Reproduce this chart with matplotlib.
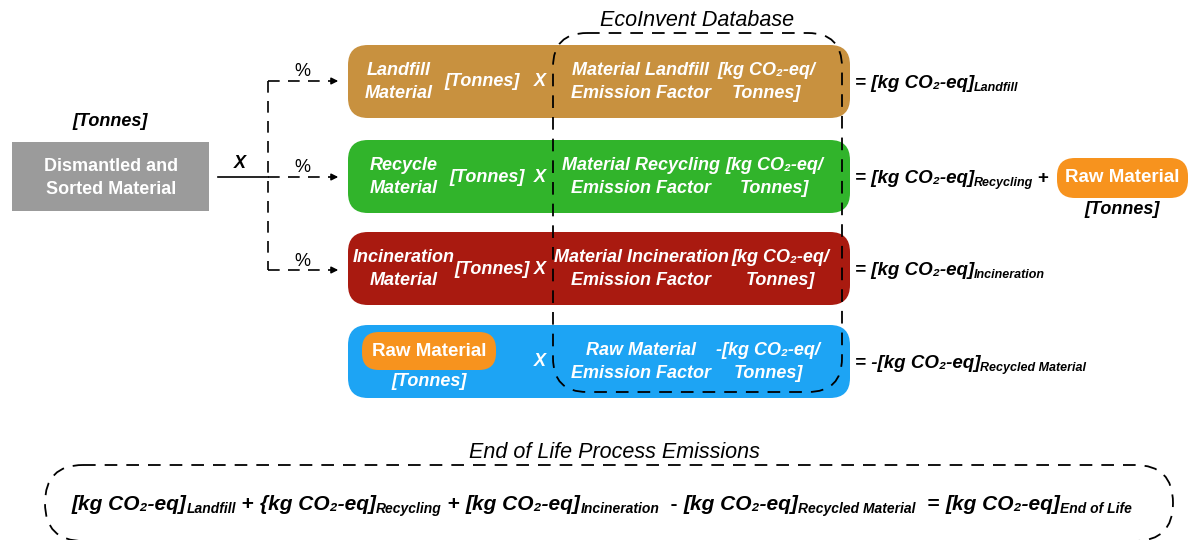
import matplotlib
matplotlib.use("Agg")
import matplotlib.pyplot as plt
from matplotlib.patches import FancyBboxPatch, Rectangle

plt.rcParams['font.family'] = ['Liberation Sans', 'DejaVu Sans']

# ---- content ----
source_label = "Dismantled and\nSorted Material"
unit_tonnes = "[Tonnes]"
split_labels = ["%", "%", "%"]
material_labels = ["Landfill\nMaterial", "Recycle\nMaterial", "Incineration\nMaterial"]
factor_labels = ["Material Landfill\nEmission Factor", "Material Recycling\nEmission Factor",
                 "Material Incineration\nEmission Factor", "Raw Material\nEmission Factor"]
factor_units = ["[kg CO₂-eq/\nTonnes]", "[kg CO₂-eq/\nTonnes]", "[kg CO₂-eq/\nTonnes]", "-[kg CO₂-eq/\nTonnes]"]
result_prefix = ["= ", "= ", "= ", "= -"]
result_subs = ["Landfill", "Recycling", "Incineration", "Recycled Material"]
box_colors = ["#C8913F", "#31B42B", "#A91A10", "#1DA4F4"]
raw_label = "Raw Material"
raw_color = "#F7931E"
db_title = "EcoInvent Database"
eol_title = "End of Life Process Emissions"
eol_terms = [("[kg CO₂-eq]", "Landfill", " + "), ("{kg CO₂-eq]", "Recycling", " + "),
             ("[kg CO₂-eq]", "Incineration", "  - "), ("[kg CO₂-eq]", "Recycled Material", "  = "),
             ("[kg CO₂-eq]", "End of Life", "")]

# ---- figure ----
fig = plt.figure(figsize=(11.88, 5.40), dpi=100)
ax = fig.add_axes([0, 0, 1, 1])
ax.set_xlim(0, 1188)
ax.set_ylim(540, 0)
ax.axis('off')
renderer = fig.canvas.get_renderer()

DASH = (0, (7, 5))
W = 'white'
FS = 13

def run(x, y, pieces, color='black'):
    """pieces: (text, size, dy, style)"""
    for txt, size, dy, style in pieces:
        t = ax.text(x, y + dy, txt, fontsize=size, fontweight='bold', fontstyle=style,
                    color=color, ha='left', va='baseline')
        bb = t.get_window_extent(renderer)
        x += bb.width
    return x

# source box
ax.add_patch(Rectangle((12, 142), 197, 69, facecolor='#9B9B9B', edgecolor='none'))
ax.text(111, 178, source_label, ha='center', va='center', color=W, fontsize=FS,
        fontweight='bold', linespacing=1.5)
ax.text(110, 122, unit_tonnes, ha='center', va='center', fontsize=FS, fontweight='bold',
        fontstyle='italic')
ax.plot([218, 268], [177, 177], color='black', lw=1.2)
ax.text(240, 163, "X", ha='center', va='center', fontsize=FS, fontweight='bold', fontstyle='italic')

# splitting lines
rows_y = [81, 177, 270]
ax.plot([268, 268], [rows_y[0], rows_y[2]], color='black', lw=1.2, ls=DASH)
for i in range(3):
    y = rows_y[i]
    ax.plot([268, 333], [y, y], color='black', lw=1.2, ls=DASH)
    ax.annotate('', xy=(341, y), xytext=(331, y),
                arrowprops=dict(arrowstyle='-|>', color='black', lw=1.1, mutation_scale=10))
    ax.text(302, y - 9, split_labels[i], ha='center', va='center', fontsize=FS)

# process boxes
box_tops = [45, 140, 232, 325]
mat_x = [399, 404, 404]
ton_x = [482, 487, 492]
unit_x = [766, 774, 780, 768]
for i in range(4):
    top = box_tops[i]
    ax.add_patch(FancyBboxPatch((348, top), 502, 73,
                                boxstyle="round,pad=0,rounding_size=20",
                                facecolor=box_colors[i], edgecolor='none'))
    yc = top + 37
    kw = dict(color=W, fontsize=FS, fontweight='bold', fontstyle='italic',
              va='center', linespacing=1.5)
    if i < 3:
        ax.text(mat_x[i], yc, material_labels[i], ha='center', **kw)
        ax.text(ton_x[i], yc, unit_tonnes, ha='center', **kw)
    else:
        ax.add_patch(FancyBboxPatch((362, 332), 134, 38,
                                    boxstyle="round,pad=0,rounding_size=17",
                                    facecolor=raw_color, edgecolor='none'))
        ax.text(429, 352, raw_label, ha='center', va='center', color=W, fontsize=13.5,
                fontweight='bold')
        ax.text(429, 382, unit_tonnes, ha='center', **kw)
    ax.text(540, yc, "X", ha='center', **kw)
    ax.text(641, yc, factor_labels[i], ha='center', **kw)
    ax.text(unit_x[i], yc, factor_units[i], ha='center', **kw)
    # results
    x = run(855, yc + 6, [(result_prefix[i] + "[kg CO₂-eq]", 13.5, 0, 'italic'),
                          (result_subs[i], 9, 3, 'italic')])
    if i == 1:
        x = run(x + 4, yc + 6, [("+", 13.5, 0, 'normal')])
        ax.add_patch(FancyBboxPatch((1057, 158), 131, 40,
                                    boxstyle="round,pad=0,rounding_size=18",
                                    facecolor=raw_color, edgecolor='none'))
        ax.text(1122, 178, raw_label, ha='center', va='center', color=W, fontsize=13.5,
                fontweight='bold')
        ax.text(1122, 209, unit_tonnes, ha='center', va='center', fontsize=FS,
                fontweight='bold', fontstyle='italic')

# EcoInvent dashed region
ax.add_patch(FancyBboxPatch((553, 33), 289, 359,
                            boxstyle="round,pad=0,rounding_size=34",
                            facecolor='none', edgecolor='black', lw=1.3, ls=DASH))
ax.text(697, 20, db_title, ha='center', va='center', fontsize=15.5, fontstyle='italic')

# End of life dashed region
ax.add_patch(FancyBboxPatch((45, 465), 1128, 76,
                            boxstyle="round,pad=0,rounding_size=38",
                            facecolor='none', edgecolor='black', lw=1.3, ls=DASH))
ax.text(614, 452, eol_title, ha='center', va='center', fontsize=15.5, fontstyle='italic')

pieces = []
for main, sub, op in eol_terms:
    pieces.append((main, 15, 0, 'italic'))
    pieces.append((sub, 10, 3, 'italic'))
    if op:
        pieces.append((op, 15, 0, 'normal'))
run(72, 510, pieces)

fig.savefig("out.png", dpi=100)
